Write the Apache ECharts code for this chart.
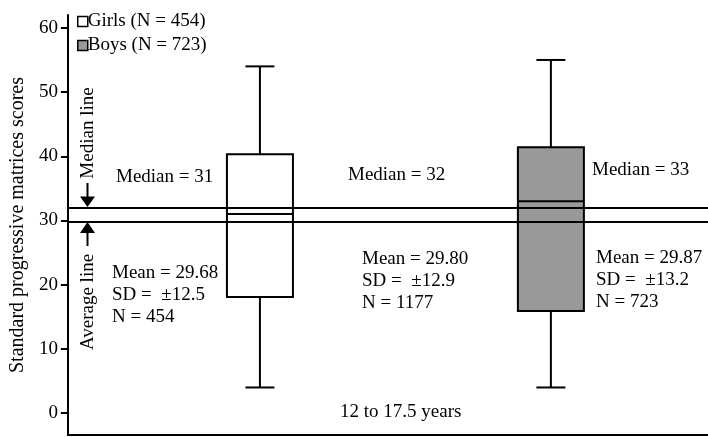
<!DOCTYPE html>
<html>
<head>
<meta charset="utf-8">
<script src="https://cdn.jsdelivr.net/npm/echarts@6/dist/echarts.min.js"></script>
<style>
html,body{margin:0;padding:0;background:#fff;}
#chart{width:708px;height:437px;}
</style>
</head>
<body>
<div id="chart"></div>
<script>
// ---- data ----
const groupNames = ['Girls (N = 454)', 'Boys (N = 723)'];
const groupPositions = [1, 3];           // girls, (total at 2), boys
// [min, Q1, median, Q3, max]
const girlsBox = [4, 18.1, 31, 40.3, 54];
const boysBox = [4, 15.9, 33, 41.4, 55];
const medianLine = 32;
const averageLine = 29.8;
const yTicks = [0, 10, 20, 30, 40, 50, 60];
const medianTexts = ['Median = 31', 'Median = 32', 'Median = 33'];
const statTexts = [
  ['Mean = 29.68', 'SD =  \u00B112.5', 'N = 454'],
  ['Mean = 29.80', 'SD =  \u00B112.9', 'N = 1177'],
  ['Mean = 29.87', 'SD =  \u00B113.2', 'N = 723']
];
const xLabel = '12 to 17.5 years';
const yTitle = 'Standard progressive matrices scores';

const FONT = 'Liberation Serif';
const FS = 19;

const chart = echarts.init(document.getElementById('chart'), null, {renderer: 'canvas'});

function renderBox(params, api) {
  const x = api.value(0);
  const pMin = api.coord([x, api.value(1)]);
  const pQ1 = api.coord([x, api.value(2)]);
  const pMed = api.coord([x, api.value(3)]);
  const pQ3 = api.coord([x, api.value(4)]);
  const pMax = api.coord([x, api.value(5)]);
  const cx = pMin[0];
  const bw = 66, cw = 29;
  const ls = {stroke: '#000', lineWidth: 2};
  return {
    type: 'group',
    children: [
      {type: 'line', shape: {x1: cx, y1: pQ3[1], x2: cx, y2: pMax[1]}, style: ls},
      {type: 'line', shape: {x1: cx, y1: pQ1[1], x2: cx, y2: pMin[1]}, style: ls},
      {type: 'line', shape: {x1: cx - cw / 2, y1: pMax[1], x2: cx + cw / 2, y2: pMax[1]}, style: ls},
      {type: 'line', shape: {x1: cx - cw / 2, y1: pMin[1], x2: cx + cw / 2, y2: pMin[1]}, style: ls},
      {type: 'rect', shape: {x: cx - bw / 2, y: pQ3[1], width: bw, height: pQ1[1] - pQ3[1]},
        style: {fill: api.visual('color'), stroke: '#000', lineWidth: 2}},
      {type: 'line', shape: {x1: cx - bw / 2, y1: pMed[1], x2: cx + bw / 2, y2: pMed[1]}, style: ls}
    ]
  };
}

const textStyleBase = {font: FS + 'px "' + FONT + '"', fill: '#000'};
function textEl(str, x, y, extra) {
  return Object.assign({type: 'text', x: x, y: y, silent: true,
    style: Object.assign({text: str, verticalAlign: 'middle', align: 'left'}, textStyleBase)}, extra || {});
}

const graphics = [];
// medians
graphics.push(textEl(medianTexts[0], 116, 177));
graphics.push(textEl(medianTexts[1], 348, 175));
graphics.push(textEl(medianTexts[2], 592, 170));
// stat blocks
const statPos = [[112, 273], [362, 259], [596, 258]];
statTexts.forEach((lines, i) => {
  lines.forEach((t, j) => graphics.push(textEl(t, statPos[i][0], statPos[i][1] + j * 22)));
});
graphics.push(textEl(xLabel, 340, 412));
// vertical annotations
graphics.push({type: 'text', x: 88, y: 133, rotation: Math.PI / 2, silent: true,
  style: Object.assign({text: 'Median line', align: 'center', verticalAlign: 'middle'}, textStyleBase)});
graphics.push({type: 'text', x: 88, y: 302, rotation: Math.PI / 2, silent: true,
  style: Object.assign({text: 'Average line', align: 'center', verticalAlign: 'middle'}, textStyleBase)});
// arrows
graphics.push({type: 'line', shape: {x1: 87.5, y1: 183, x2: 87.5, y2: 197}, style: {stroke: '#000', lineWidth: 2}});
graphics.push({type: 'polygon', shape: {points: [[80, 196.5], [95, 196.5], [87.5, 207]]}, style: {fill: '#000'}});
graphics.push({type: 'line', shape: {x1: 87.5, y1: 232, x2: 87.5, y2: 246}, style: {stroke: '#000', lineWidth: 2}});
graphics.push({type: 'polygon', shape: {points: [[80, 233], [95, 233], [87.5, 222]]}, style: {fill: '#000'}});

const option = {
  animation: false,
  backgroundColor: '#fff',
  textStyle: {fontFamily: FONT},
  grid: {left: 67, right: 0, top: 15, bottom: 2},
  legend: {
    orient: 'vertical', left: 72, top: 7, itemWidth: 10, itemHeight: 10, itemGap: 5,
    textStyle: {fontFamily: FONT, fontSize: FS, color: '#000', padding: [0, 0, 0, -5]},
    data: [
      {name: groupNames[0], icon: 'rect', itemStyle: {color: '#fff', borderColor: '#000', borderWidth: 1.5}},
      {name: groupNames[1], icon: 'rect', itemStyle: {color: '#999', borderColor: '#000', borderWidth: 1.5}}
    ]
  },
  xAxis: {
    type: 'value', min: -0.32, max: 4.08,
    axisLine: {show: true, onZero: false, lineStyle: {color: '#000', width: 2}},
    axisTick: {show: false}, axisLabel: {show: false}, splitLine: {show: false}
  },
  yAxis: {
    type: 'value', min: -3.4, max: 62,
    name: yTitle, nameLocation: 'middle', nameGap: 31,
    nameTextStyle: {fontFamily: FONT, fontSize: 20, color: '#000'},
    axisLine: {show: true, onZero: false, lineStyle: {color: '#000', width: 2}},
    axisTick: {show: true, length: 7, lineStyle: {color: '#000', width: 2}, customValues: yTicks},
    axisLabel: {fontFamily: FONT, fontSize: FS, color: '#000', margin: 10, customValues: yTicks},
    splitLine: {show: false}
  },
  series: [
    {
      name: groupNames[0], type: 'custom', renderItem: renderBox,
      itemStyle: {color: '#fff', borderColor: '#000'},
      encode: {x: 0, y: [1, 2, 3, 4, 5]},
      data: [[groupPositions[0]].concat(girlsBox)],
      markLine: {
        silent: true, symbol: ['none', 'none'], label: {show: false},
        lineStyle: {color: '#000', width: 2, type: 'solid'},
        data: [{yAxis: medianLine}, {yAxis: averageLine}]
      },
      z: 3
    },
    {
      name: groupNames[1], type: 'custom', renderItem: renderBox,
      itemStyle: {color: '#999', borderColor: '#000'},
      encode: {x: 0, y: [1, 2, 3, 4, 5]},
      data: [[groupPositions[1]].concat(boysBox)],
      z: 3
    }
  ],
  graphic: graphics
};
chart.setOption(option);
</script>
</body>
</html>
